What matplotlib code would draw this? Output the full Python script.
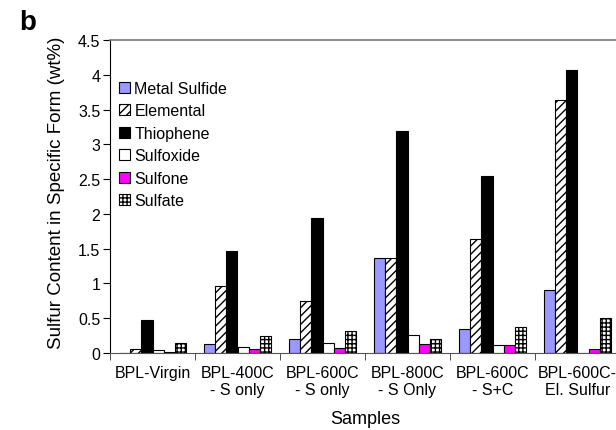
import numpy as np
import matplotlib.pyplot as plt

plt.rcParams['font.family'] = ['Liberation Sans', 'DejaVu Sans']
plt.rcParams['hatch.linewidth'] = 1.0

samples = ['BPL-Virgin', 'BPL-400C\n- S only', 'BPL-600C\n- S only',
           'BPL-800C\n- S Only', 'BPL-600C\n- S+C', 'BPL-600C-\nEl. Sulfur']
forms = ['Metal Sulfide', 'Elemental', 'Thiophene', 'Sulfoxide', 'Sulfone', 'Sulfate']

metal_sulfide = [0.0, 0.125, 0.20, 1.37, 0.35, 0.90]
elemental = [0.06, 0.96, 0.75, 1.36, 1.64, 3.64]
thiophene = [0.48, 1.46, 1.94, 3.19, 2.54, 4.07]
sulfoxide = [0.04, 0.09, 0.14, 0.26, 0.12, 0.0]
sulfone = [0.02, 0.06, 0.07, 0.13, 0.11, 0.06]
sulfate = [0.15, 0.24, 0.31, 0.20, 0.38, 0.51]

series = [metal_sulfide, elemental, thiophene, sulfoxide, sulfone, sulfate]
colors = ['#9999ff', 'white', 'black', 'white', '#ff00ff', 'white']
hatches = [None, '////', None, None, None, '++++']


def main():
    fig = plt.figure(figsize=(6.16, 4.31), dpi=100)
    # right edge of the frame runs just past the picture, as in the original
    ax = fig.add_axes([110 / 616, 77 / 431, 510 / 616, 313 / 431])

    x = np.arange(len(samples))
    w = 0.13
    for i, (vals, c, h, name) in enumerate(zip(series, colors, hatches, forms)):
        ax.bar(x + (i - 2.5) * w, vals, w, color=c, edgecolor='black',
               linewidth=0.8, hatch=h, label=name)

    ax.set_xlim(-0.5, len(samples) - 0.5)
    ax.set_ylim(0, 4.5)
    ax.set_yticks(np.arange(0, 4.51, 0.5))
    ax.set_yticklabels(['%g' % v for v in np.arange(0, 4.51, 0.5)])
    ax.set_xticks(x)
    ax.set_xticklabels(samples, linespacing=1.15)
    ax.set_xticks(np.arange(-0.5, len(samples)), minor=True)
    ax.tick_params(axis='x', which='major', length=0, pad=9, labelsize=11.5)
    ax.tick_params(axis='x', which='minor', length=5, color='#333333')
    ax.tick_params(axis='y', length=5, labelsize=11.5, pad=2)

    ax.spines['top'].set_color('#777777')
    ax.spines['top'].set_linewidth(1.2)
    ax.spines['right'].set_visible(False)
    ax.spines['bottom'].set_color('#555555')
    ax.spines['left'].set_color('black')

    ax.set_xlabel('Samples', fontsize=13, labelpad=9)
    ax.set_ylabel('Sulfur Content in Specific Form (wt%)', fontsize=13.5)
    ax.yaxis.set_label_coords(-0.088, 0.515)

    ax.legend(loc='upper left', bbox_to_anchor=(0.018, 0.87), frameon=False,
              fontsize=11.5, handlelength=0.7, handleheight=0.7,
              handletextpad=0.25, labelspacing=0.47, borderpad=0,
              borderaxespad=0)

    fig.text(19 / 616, 1 - 23 / 431, 'b', fontsize=20, fontweight='bold',
             va='center', ha='left')

    fig.savefig('out.png', dpi=100)


if __name__ == '__main__':
    main()
